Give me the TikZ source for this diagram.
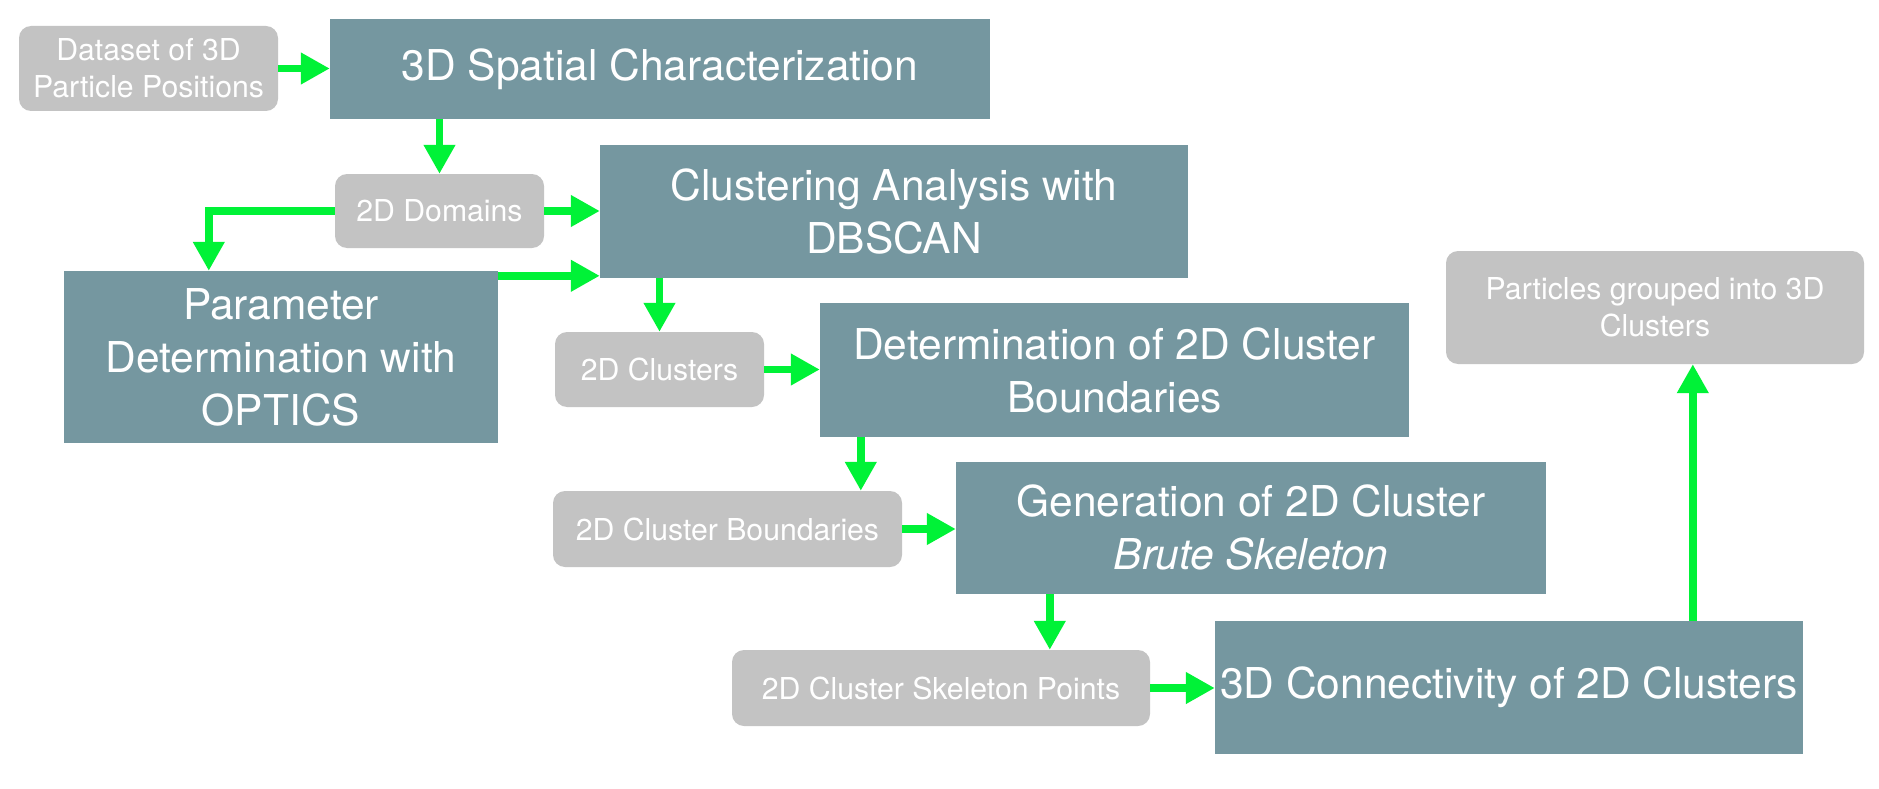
\documentclass[tikz,border=0pt]{standalone}
\usepackage{fontspec}
\setmainfont{TeX Gyre Heros}
\usetikzlibrary{arrows.meta,calc}
\definecolor{tealbox}{RGB}{117,151,160}
\definecolor{graybox}{RGB}{195,195,195}
\definecolor{arrgreen}{RGB}{0,242,55}
\tikzset{
  bigbox/.style={fill=tealbox, draw=none, inner sep=0pt, align=center, text=white,
    font=\fontsize{42.5}{53}\selectfont},
  smallbox/.style={fill=graybox, draw=none, rounded corners=12pt, inner sep=0pt, align=center, text=white,
    font=\fontsize{30.2}{37}\selectfont},
  arr/.style={draw=arrgreen, line width=7.5pt, -{Triangle[length=29pt,width=30pt]}}
}
\begin{document}
\begin{tikzpicture}[x=1pt,y=-1pt]
\useasboundingbox[fill=white] (0,0) rectangle (1879,789);
% nodes
\node[smallbox, minimum width=259pt, minimum height=85pt] (data) at (148.5,68.5) {Dataset of 3D\\Particle Positions};
\node[bigbox, minimum width=660pt, minimum height=100pt] (spatial) at (660,69) {3D Spatial Characterization};
\node[smallbox, minimum width=209pt, minimum height=74pt] (domains) at (439.5,211) {2D Domains};
\node[bigbox, minimum width=588pt, minimum height=133pt] (clust) at (894,211.5) {Clustering Analysis with\\DBSCAN};
\node[bigbox, minimum width=434pt, minimum height=172pt] (param) at (281,357) {Parameter\\Determination with\\OPTICS};
\node[smallbox, minimum width=209pt, minimum height=75pt] (c2d) at (659.5,369.5) {2D Clusters};
\node[bigbox, minimum width=589pt, minimum height=134pt] (detb) at (1114.5,370) {Determination of 2D Cluster\\Boundaries};
\node[smallbox, minimum width=349pt, minimum height=76pt] (bnd) at (727.5,529) {2D Cluster Boundaries};
\node[bigbox, minimum width=590pt, minimum height=132pt] (gen) at (1251,528) {Generation of 2D Cluster\\\textit{Brute Skeleton}};
\node[smallbox, minimum width=418pt, minimum height=76pt] (skel) at (941,688) {2D Cluster Skeleton Points};
\node[bigbox, minimum width=588pt, minimum height=133pt] (conn) at (1509,687.5) {3D Connectivity of 2D Clusters};
\node[smallbox, minimum width=418pt, minimum height=113pt] (part) at (1655,307.5) {Particles grouped into 3D\\Clusters};
% connectors
\draw[arr] (data.east) -- (data.east -| spatial.west);
\draw[arr] (spatial.south -| domains.north) -- (domains.north);
\draw[arr] (domains.east) -- (domains.east -| clust.west);
\draw[arr] (domains.west) -| ($(param.north west)+(145,0)$);
\draw[arr] ($(param.north east)+(0,5)$) coordinate (a5) -- (a5 -| clust.west);
\draw[arr] (clust.south -| c2d.north) -- (c2d.north);
\draw[arr] (c2d.east) -- (c2d.east -| detb.west);
\draw[arr] ($(detb.south west)+(41,0)$) coordinate (a8) -- (a8 |- bnd.north);
\draw[arr] (bnd.east) -- (bnd.east -| gen.west);
\draw[arr] ($(gen.south west)+(94,0)$) coordinate (a10) -- (a10 |- skel.north);
\draw[arr] (skel.east) -- (skel.east -| conn.west);
\draw[arr] ($(conn.north west)+(478,0)$) coordinate (a12) -- (a12 |- part.south);
\end{tikzpicture}
\end{document}
